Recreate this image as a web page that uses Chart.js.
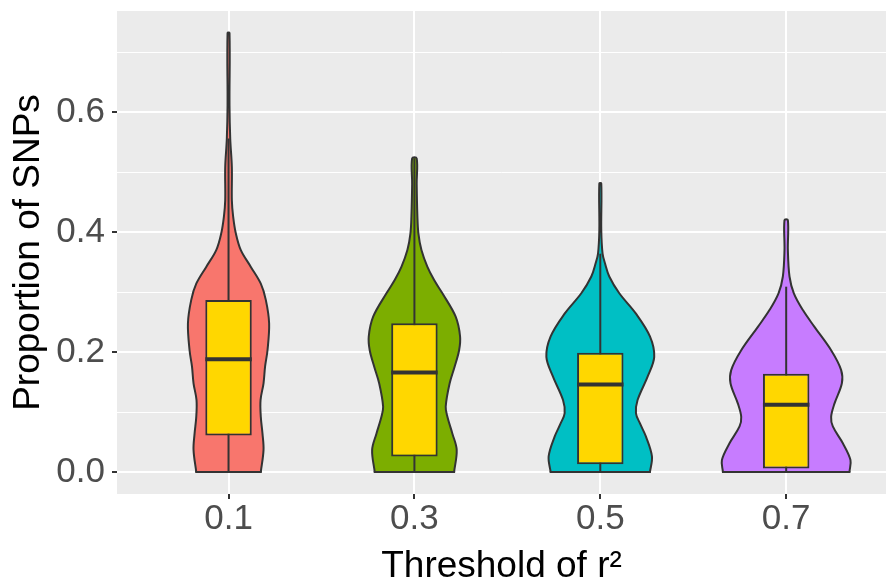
<!DOCTYPE html>
<html>
<head>
<meta charset="utf-8">
<script src="https://cdn.jsdelivr.net/npm/chart.js@4"></script>
<style>
  html, body { margin: 0; padding: 0; background: #ffffff; }
  canvas { display: block; }
</style>
</head>
<body>
<canvas id="violinChart" width="886" height="586"></canvas>
<script>
// Datos
const groups = ['0.1', '0.3', '0.5', '0.7'];
const q1 = [0.061, 0.026, 0.013, 0.006];
const medians = [0.188, 0.166, 0.146, 0.112];
const q3 = [0.287, 0.248, 0.199, 0.164];
const whiskerLow = [0, 0, 0, 0];
const whiskerHigh = [0.556, 0.523, 0.364, 0.309];

// Perfiles de densidad de cada violín (valor y, anchura relativa)
const violinY01 = [0, 0.037, 0.064, 0.092, 0.12, 0.148, 0.176, 0.203, 0.248, 0.287, 0.314, 0.342, 0.37, 0.398, 0.426, 0.453, 0.508, 0.556, 0.611, 0.732];
const violinW01 = [0.496, 0.538, 0.522, 0.496, 0.492, 0.538, 0.562, 0.599, 0.624, 0.573, 0.496, 0.343, 0.189, 0.112, 0.071, 0.051, 0.051, 0.026, 0.015, 0.015];
const violinY03 = [0, 0.037, 0.064, 0.092, 0.109, 0.148, 0.176, 0.203, 0.226, 0.259, 0.298, 0.32, 0.342, 0.37, 0.398, 0.426, 0.48, 0.523];
const violinW03 = [0.61, 0.65, 0.584, 0.507, 0.481, 0.542, 0.619, 0.687, 0.702, 0.634, 0.43, 0.303, 0.2, 0.108, 0.061, 0.046, 0.035, 0.035];
const violinY05 = [0, 0.026, 0.059, 0.081, 0.098, 0.12, 0.159, 0.192, 0.226, 0.264, 0.298, 0.326, 0.348, 0.364, 0.403, 0.481];
const violinW05 = [0.763, 0.794, 0.702, 0.61, 0.548, 0.573, 0.727, 0.829, 0.763, 0.548, 0.292, 0.138, 0.072, 0.035, 0.015, 0.015];
const violinY07 = [0, 0.02, 0.048, 0.076, 0.092, 0.114, 0.148, 0.17, 0.203, 0.242, 0.27, 0.298, 0.326, 0.37, 0.42];
const violinW07 = [0.972, 0.988, 0.871, 0.717, 0.691, 0.742, 0.856, 0.845, 0.691, 0.435, 0.257, 0.118, 0.051, 0.026, 0.026];

const violinY = [violinY01, violinY03, violinY05, violinY07];
const violinW = [violinW01, violinW03, violinW05, violinW07];

const yTickValues = [0, 0.1, 0.2, 0.3, 0.4, 0.5, 0.6, 0.7];
const yTickLabels = ['0.0', '', '0.2', '', '0.4', '', '0.6', ''];

// Estilo
const fillColors = ['#F8766D', '#7CAE00', '#00BFC4', '#C77CFF'];
const LINE = '#333333';
const VIOLIN_HALF = 0.35;   // media anchura máxima (unidades de categoría)
const BOX_HALF = 0.125;
const FONT = "'Liberation Sans', Arial, sans-serif";

function outline(i) {
  const c = i + 1;
  const left = violinY[i].map((y, k) => ({ x: c - violinW[i][k] * VIOLIN_HALF, y: y }));
  const right = violinY[i].map((y, k) => ({ x: c + violinW[i][k] * VIOLIN_HALF, y: y })).reverse();
  return left.concat(right);
}

function line(data, width, order, extra) {
  return Object.assign({
    type: 'scatter', data: data, showLine: true, fill: false,
    borderColor: LINE, borderWidth: width, pointRadius: 0, order: order
  }, extra || {});
}

const datasets = [];
groups.forEach((g, i) => {
  const c = i + 1;
  datasets.push(line(outline(i), 2, 10, {
    fill: 'shape', backgroundColor: fillColors[i], tension: 0.35
  }));
  const w0 = violinW[i][0] * VIOLIN_HALF;
  datasets.push(line([{ x: c - w0, y: violinY[i][0] }, { x: c + w0, y: violinY[i][0] }], 2, 9,
    { borderCapStyle: 'square' }));
  datasets.push(line([{ x: c, y: whiskerLow[i] }, { x: c, y: whiskerHigh[i] }], 2, 8));
  datasets.push(line([{ x: c - BOX_HALF, y: medians[i] }, { x: c + BOX_HALF, y: medians[i] }], 4, 6));
});
datasets.push({
  type: 'bar',
  data: groups.map((g, i) => ({ x: i + 1, y: [q1[i], q3[i]] })),
  backgroundColor: '#FFD700',
  borderColor: LINE,
  borderWidth: 2,
  borderSkipped: false,
  barPercentage: 0.25,
  categoryPercentage: 1.0,
  order: 7
});

// Fondo gris del panel
const panelBg = {
  id: 'panelBg',
  beforeDraw(chart) {
    const a = chart.chartArea;
    const ctx = chart.ctx;
    ctx.save();
    ctx.fillStyle = '#EBEBEB';
    ctx.fillRect(a.left, a.top, a.right - a.left, a.bottom - a.top);
    ctx.restore();
  }
};

const ctx = document.getElementById('violinChart').getContext('2d');
new Chart(ctx, {
  type: 'scatter',
  data: { datasets: datasets },
  plugins: [panelBg],
  options: {
    responsive: false,
    animation: false,
    events: [],
    layout: { padding: { top: 11, right: 0, left: 0, bottom: 0 } },
    plugins: { legend: { display: false }, tooltip: { enabled: false } },
    scales: {
      x: {
        type: 'linear', position: 'bottom', min: 0.4, max: 4.537, offset: false,
        afterBuildTicks: s => { s.ticks = groups.map((g, i) => ({ value: i + 1 })); },
        afterFit: s => { s.height = 92; s.paddingLeft = 0; s.paddingRight = 0; },
        ticks: {
          autoSkip: false, maxRotation: 0, color: '#4D4D4D', padding: 3,
          font: { family: FONT, size: 35, lineHeight: 1 },
          callback: (v, i) => groups[i]
        },
        grid: { offset: false, color: '#FFFFFF', lineWidth: 2, tickColor: LINE, tickLength: 5, tickWidth: 2 },
        border: { display: false },
        title: {
          display: true, text: 'Threshold of r\u00B2', color: '#000000',
          font: { family: FONT, size: 37, lineHeight: 1 }, padding: { top: 0, bottom: 1 }
        }
      },
      y: {
        type: 'linear', min: -0.0366, max: 0.7686,
        afterBuildTicks: s => { s.ticks = yTickValues.map(v => ({ value: v })); },
        afterFit: s => { s.width = 117; s.paddingTop = 0; s.paddingBottom = 0; },
        ticks: {
          autoSkip: false, color: '#4D4D4D', padding: 7,
          font: { family: FONT, size: 35, lineHeight: 1 },
          callback: (v, i) => yTickLabels[i]
        },
        grid: {
          color: '#FFFFFF',
          lineWidth: c => (yTickLabels[c.index] ? 2 : 1),
          tickColor: c => (yTickLabels[c.index] ? LINE : 'rgba(0,0,0,0)'),
          tickLength: 5, tickWidth: 2
        },
        border: { display: false },
        title: {
          display: true, text: 'Proportion of SNPs', color: '#000000',
          font: { family: FONT, size: 37, lineHeight: 1 }, padding: { top: 10, bottom: 0 }
        }
      }
    }
  }
});
</script>
</body>
</html>
